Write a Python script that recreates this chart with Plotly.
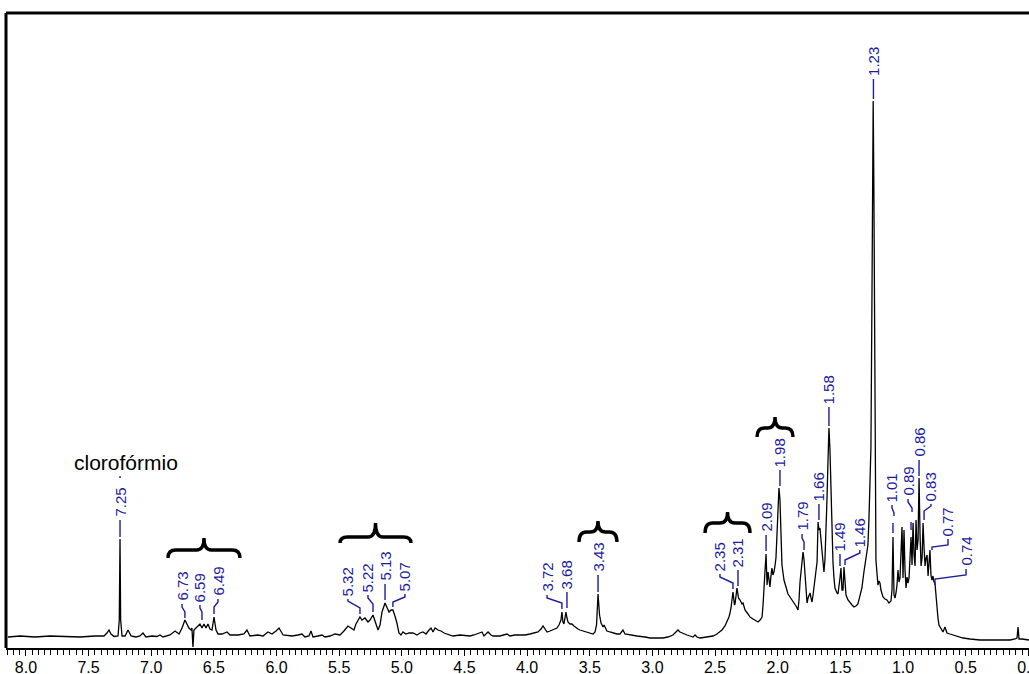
import plotly.graph_objects as go

# ---------------- data ----------------
# chemical shift (ppm) and relative intensity (a.u.) of the 1H spectrum trace
ppm = [8.143, 8.047, 7.928, 7.808, 7.688, 7.569, 7.449, 7.377, 7.353, 7.337, 7.321, 7.297, 7.265, 7.255, 7.249, 7.244, 7.233,
       7.209, 7.185, 7.161, 7.122, 7.090, 7.066, 7.042, 6.994, 6.954, 6.930, 6.906, 6.850, 6.810, 6.778, 6.754, 6.731,
       6.715, 6.699, 6.683, 6.675, 6.667, 6.659, 6.635, 6.611, 6.595, 6.579, 6.563, 6.547, 6.531, 6.515, 6.499, 6.483,
       6.467, 6.435, 6.395, 6.371, 6.308, 6.260, 6.236, 6.212, 6.148, 6.108, 6.068, 6.036, 6.004, 5.980, 5.948, 5.877,
       5.829, 5.797, 5.773, 5.741, 5.725, 5.709, 5.669, 5.637, 5.613, 5.573, 5.533, 5.493, 5.462, 5.430, 5.406, 5.382,
       5.366, 5.334, 5.318, 5.294, 5.270, 5.254, 5.230, 5.214, 5.190, 5.174, 5.158, 5.134, 5.118, 5.102, 5.086, 5.071,
       5.055, 5.039, 5.023, 5.007, 4.991, 4.967, 4.943, 4.911, 4.879, 4.855, 4.831, 4.807, 4.783, 4.767, 4.751, 4.735,
       4.711, 4.687, 4.663, 4.639, 4.592, 4.536, 4.480, 4.456, 4.424, 4.400, 4.376, 4.360, 4.344, 4.328, 4.312, 4.288,
       4.272, 4.217, 4.177, 4.161, 4.137, 4.097, 4.057, 4.017, 3.977, 3.937, 3.913, 3.889, 3.873, 3.857, 3.841, 3.817,
       3.801, 3.777, 3.762, 3.746, 3.730, 3.722, 3.714, 3.706, 3.698, 3.690, 3.682, 3.674, 3.658, 3.642, 3.626, 3.618,
       3.594, 3.578, 3.546, 3.522, 3.498, 3.474, 3.458, 3.446, 3.434, 3.422, 3.410, 3.394, 3.386, 3.371, 3.363, 3.339,
       3.315, 3.283, 3.259, 3.243, 3.235, 3.219, 3.179, 3.123, 3.059, 3.019, 2.971, 2.916, 2.876, 2.836, 2.812, 2.796,
       2.780, 2.764, 2.740, 2.724, 2.700, 2.676, 2.660, 2.644, 2.620, 2.580, 2.540, 2.516, 2.485, 2.461, 2.445, 2.421,
       2.405, 2.389, 2.381, 2.373, 2.357, 2.345, 2.341, 2.325, 2.313, 2.301, 2.285, 2.277, 2.261, 2.237, 2.221, 2.197,
       2.181, 2.157, 2.141, 2.125, 2.117, 2.109, 2.101, 2.093, 2.085, 2.077, 2.069, 2.062, 2.054, 2.046, 2.038, 2.030,
       2.022, 2.014, 2.006, 1.998, 1.990, 1.982, 1.974, 1.966, 1.950, 1.934, 1.918, 1.902, 1.878, 1.854, 1.838, 1.830,
       1.822, 1.810, 1.798, 1.790, 1.782, 1.774, 1.766, 1.758, 1.742, 1.734, 1.726, 1.718, 1.710, 1.702, 1.694, 1.686,
       1.678, 1.671, 1.663, 1.655, 1.647, 1.639, 1.631, 1.623, 1.615, 1.607, 1.599, 1.591, 1.583, 1.575, 1.567, 1.559,
       1.551, 1.543, 1.527, 1.519, 1.503, 1.495, 1.487, 1.479, 1.471, 1.463, 1.455, 1.439, 1.423, 1.407, 1.391, 1.375,
       1.360, 1.344, 1.328, 1.312, 1.296, 1.288, 1.280, 1.272, 1.264, 1.256, 1.248, 1.243, 1.238, 1.233, 1.228, 1.224,
       1.220, 1.216, 1.208, 1.200, 1.192, 1.184, 1.176, 1.168, 1.160, 1.144, 1.128, 1.112, 1.096, 1.088, 1.080, 1.072,
       1.064, 1.056, 1.048, 1.040, 1.032, 1.024, 1.016, 1.008, 1.000, 0.992, 0.984, 0.976, 0.968, 0.960, 0.952, 0.944,
       0.936, 0.928, 0.920, 0.912, 0.904, 0.896, 0.888, 0.880, 0.872, 0.864, 0.856, 0.848, 0.840, 0.832, 0.824, 0.816,
       0.808, 0.800, 0.793, 0.785, 0.777, 0.769, 0.761, 0.753, 0.745, 0.737, 0.729, 0.721, 0.713, 0.697, 0.681, 0.665,
       0.657, 0.649, 0.625, 0.601, 0.569, 0.521, 0.465, 0.386, 0.306, 0.226, 0.146, 0.106, 0.090, 0.082, 0.074, 0.050,
       -0.005]
intensity = [-1, 0, -1, 0, -0.5, -1, 0, 0, 3, 6, 2, -0.5, 0, 16, 97, 16, 0,
             0, 6, 0, -1, 0, 3, -1, 0, -0.5, 1, -1, 1, 5, 2, 8, 16,
             12, 8, 6, 8, -11, 6, 9, 12, 8, 12, 8, 12, 7, 6, 19, 6,
             2, 2, 4, 1, 1, 2, 6, 0, 1, 0, 4, 2, 5, 8, 1, 0,
             1, 2, -1, 0, 5, -1, 0, 1, -1, 0, 2, 1, 5, 10, 8, 6,
             12, 19, 16, 18, 14, 16, 21, 14, 6, 11, 24, 33, 28, 24, 26, 26,
             20, 13, 3, 1, 4, 2, 3, 3, 1, 3, 4, 2, 6, 8, 4, 8,
             6, 5, 3, 2, 0, 1, 0, 0, 1, 2, 3, 4, 0, 2, 4, 1,
             0, 0, 1, 2, 0, 1, 1, 1, 2, 3, 4, 7, 10, 7, 4, 5,
             6, 7, 8, 11, 16, 24, 14, 12, 18, 24, 18, 14, 12, 12, 10, 9,
             7, 6, 5, 4, 3, 2, 4, 11, 42, 21, 13, 9, 11, 7, 5, 4,
             3, 2, 2, 5, 6, 2, 1, 0, -1, -2, -2, -2, -1, 1, 4, 6,
             4, 3, 2, 1, 0, -1, 1, -1, -2, -1, 0, 0, 2, 4, 6, 10,
             14, 19, 23, 28, 44, 31, 32, 48, 38, 36, 32, 33, 26, 22, 19, 17,
             16, 14, 16, 19, 31, 54, 66, 82, 51, 64, 54, 49, 60, 68, 61, 64,
             70, 78, 101, 131, 148, 136, 91, 71, 56, 48, 42, 39, 35, 30, 26, 36,
             54, 71, 84, 76, 61, 44, 33, 38, 43, 38, 34, 41, 51, 59, 66, 74,
             114, 106, 108, 98, 91, 76, 64, 76, 101, 136, 174, 208, 186, 141, 101, 74,
             58, 48, 43, 42, 58, 68, 46, 46, 69, 51, 41, 36, 33, 31, 29, 30,
             32, 39, 48, 64, 76, 83, 91, 116, 146, 189, 336, 456, 535, 456, 336, 166,
             89, 76, 63, 51, 55, 53, 46, 43, 39, 37, 36, 33, 35, 46, 99, 41,
             38, 43, 51, 66, 54, 58, 81, 109, 58, 106, 66, 48, 59, 53, 58, 76,
             99, 71, 113, 81, 70, 116, 86, 96, 158, 101, 70, 78, 113, 88, 70, 78,
             81, 60, 76, 86, 61, 56, 60, 54, 53, 38, 26, 18, 11, 7, 4, 9,
             5, 3, 2, 1, 0, -2, -3, -4, -4, -4, -4, -3, -2, 9, -3, -3,
             -4]

# peak labels
peak_labels = ["7.25", "6.73", "6.59", "6.49", "5.32", "5.22", "5.13", "5.07", "3.72", "3.68", "3.43",
               "2.35", "2.31", "2.09", "1.98", "1.79", "1.66", "1.58", "1.49", "1.46", "1.23", "1.01",
               "0.89", "0.86", "0.83", "0.77", "0.74"]

# ---------------- label layout (ppm of text, intensity of text foot, leader polyline) ----------------
label_x = [7.249, 6.754, 6.611, 6.467, 5.430, 5.270, 5.134, 4.975, 3.841, 3.682, 3.434,
           2.461, 2.317, 2.093, 1.982, 1.806, 1.671, 1.591, 1.503, 1.344, 1.236, 1.088,
           0.960, 0.872, 0.777, 0.641, 0.497]
label_y = [118, 34, 33, 39, 39, 43, 54, 44, 43, 46, 63,
           64, 68, 103, 168, 104, 134, 231, 84, 88, 559, 133,
           139, 178, 134, 99, 69]
leaders = [
    [(7.249, 116), (7.249, 99)],
    [(6.754, 32), (6.754, 29), (6.731, 24), (6.731, 18)],
    [(6.611, 31), (6.611, 28), (6.595, 24), (6.595, 16)],
    [(6.467, 37), (6.467, 34), (6.499, 29), (6.499, 22)],
    [(5.430, 37), (5.430, 35), (5.334, 28), (5.334, 22)],
    [(5.270, 41), (5.270, 38), (5.230, 32), (5.230, 24)],
    [(5.134, 52), (5.134, 36)],
    [(4.975, 42), (4.975, 39), (5.071, 34), (5.071, 29)],
    [(3.841, 41), (3.841, 38), (3.722, 33), (3.722, 27)],
    [(3.682, 44), (3.682, 28)],
    [(3.434, 61), (3.434, 44)],
    [(2.461, 62), (2.461, 59), (2.357, 53), (2.357, 47)],
    [(2.317, 66), (2.317, 50)],
    [(2.093, 101), (2.093, 85)],
    [(1.982, 166), (1.982, 150)],
    [(1.806, 102), (1.806, 98), (1.790, 94), (1.790, 86)],
    [(1.671, 132), (1.671, 116)],
    [(1.591, 229), (1.591, 210)],
    [(1.503, 82), (1.503, 70)],
    [(1.344, 86), (1.344, 83), (1.463, 76), (1.463, 71)],
    [(1.236, 557), (1.236, 537)],
    [(1.088, 131), (1.088, 128), (1.072, 123), (1.072, 120)],
    [(0.960, 137), (0.960, 134), (0.928, 128), (0.928, 124)],
    [(0.872, 176), (0.872, 160)],
    [(0.777, 132), (0.777, 130), (0.832, 125), (0.832, 116)],
    [(0.641, 97), (0.641, 91), (0.769, 89), (0.769, 86)],
    [(0.497, 67), (0.497, 61), (0.745, 57), (0.745, 51)],
]
extra_dashes = [
    [(1.080, 113), (1.080, 103)],
    [(0.936, 114), (0.936, 106)],
    [(7.249, 160), (7.249, 158)],
]

# curly braces: left ppm, right ppm, bar, tip, end intensity
braces = [
    (6.866, 6.292, 86, 98, 78),
    (5.493, 4.927, 99, 113, 93),
    (3.586, 3.283, 104, 115, 94),
    (2.580, 2.221, 113, 124, 103),
    (2.165, 1.878, 208, 219, 199),
]

solvent_label = "clorofórmio"

# ---------------- figure ----------------
BLUE = "#1c1c9c"
FONT = "Liberation Sans, Arial, sans-serif"

fig = go.Figure()
fig.add_trace(go.Scatter(x=ppm, y=intensity, mode="lines",
                         line=dict(color="black", width=1.3), hoverinfo="skip"))

lx, ly = [], []
for seg in leaders + extra_dashes:
    for p, v in seg:
        lx.append(p)
        ly.append(v)
    lx.append(None)
    ly.append(None)
fig.add_trace(go.Scatter(x=lx, y=ly, mode="lines", line=dict(color=BLUE, width=1.4),
                         hoverinfo="skip", cliponaxis=False))

for txt, xx, yy in zip(peak_labels, label_x, label_y):
    fig.add_annotation(x=xx, y=yy, text=txt, showarrow=False, textangle=-90,
                       xanchor="center", yanchor="bottom", borderpad=0,
                       font=dict(family=FONT, size=15, color=BLUE))

fig.add_annotation(x=7.20, y=174, text=solvent_label, showarrow=False,
                   xanchor="center", yanchor="middle",
                   font=dict(family=FONT, size=21, color="black"))

r = 0.06
for left, right, bar, tip, end in braces:
    mid = (left + right) / 2
    path = (f"M {left},{end} Q {left},{bar} {left - r},{bar} "
            f"L {mid + r},{bar} Q {mid},{bar} {mid},{tip} "
            f"Q {mid},{bar} {mid - r},{bar} "
            f"L {right + r},{bar} Q {right},{bar} {right},{end}")
    fig.add_shape(type="path", path=path, xref="x", yref="y",
                  line=dict(color="black", width=3.4))

# frame (top and left border)
fig.add_shape(type="line", xref="paper", yref="paper", x0=0, x1=1, y0=1, y1=1,
              line=dict(color="black", width=3))
fig.add_shape(type="line", xref="paper", yref="paper", x0=0, x1=0, y0=0, y1=1,
              line=dict(color="black", width=3))

fig.update_layout(
    width=1029, height=674,
    margin=dict(l=6, r=0, t=13, b=26, autoexpand=False),
    plot_bgcolor="white", paper_bgcolor="white",
    showlegend=False,
    xaxis=dict(range=[8.159, -0.0055], tick0=0, dtick=0.5, tickformat=".1f",
               ticks="outside", ticklen=6, tickwidth=1, tickcolor="black",
               ticklabelstandoff=-2,
               showline=True, linewidth=2, linecolor="black", automargin=False,
               showgrid=False, zeroline=False, ticklabeloverflow="allow",
               tickfont=dict(family=FONT, size=16, color="black"),
               minor=dict(dtick=0.05, ticks="outside", ticklen=5, tickwidth=1,
                          tickcolor="black", showgrid=False)),
    yaxis=dict(range=[-12, 623], visible=False),
)

fig.write_html("out.html")
